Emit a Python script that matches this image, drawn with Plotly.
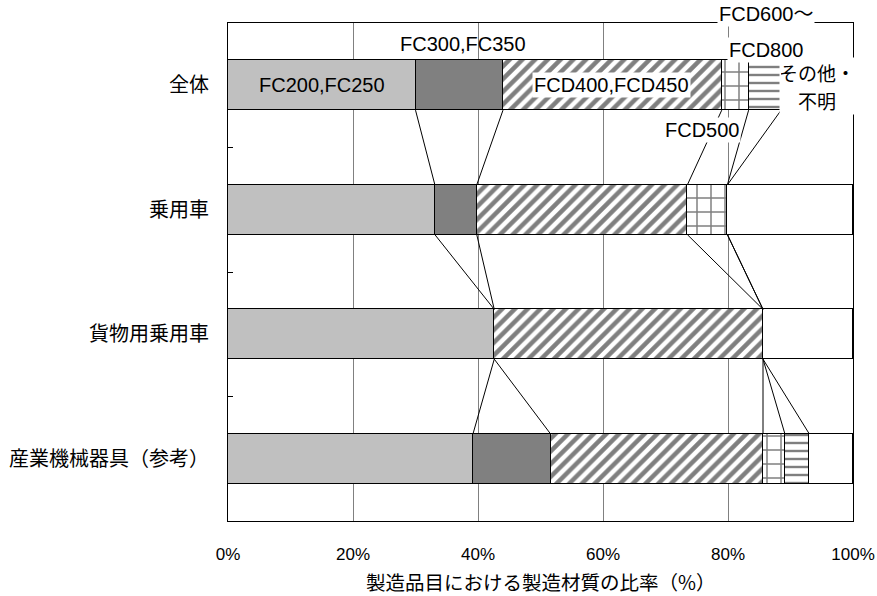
import plotly.graph_objects as go

# 製造品目ごとの材質構成比（%）
categories = ["全体", "乗用車", "貨物用乗用車", "産業機械器具（参考）"]
fc200_fc250 = [30.0, 33.1, 42.6, 39.2]
fc300_fc350 = [14.0, 6.7, 0.0, 12.4]
fcd400_fcd450 = [35.0, 33.7, 43.0, 34.0]
fcd500 = [4.3, 6.4, 0.0, 3.5]
fcd600_fcd800 = [5.2, 0.0, 0.0, 3.9]
other_unknown = [11.5, 20.1, 14.4, 7.0]
x_ticks = [0, 20, 40, 60, 80, 100]
x_tick_labels = ["0%", "20%", "40%", "60%", "80%", "100%"]
x_title = "製造品目における製造材質の比率（%）"

LATIN = "Liberation Sans, Arial, Noto Sans CJK JP"
CJK = "Noto Sans CJK JP"
BAR_W = 0.4

series = [
    ("FC200,FC250", fc200_fc250, dict(color="#C0C0C0")),
    ("FC300,FC350", fc300_fc350, dict(color="#808080")),
    ("FCD400,FCD450", fcd400_fcd450,
     dict(color="white", pattern=dict(shape="/", size=9, solidity=0.5,
                                      fgcolor="black", bgcolor="white"))),
    ("FCD500", fcd500,
     dict(color="white", pattern=dict(shape="+", size=14, solidity=0.2,
                                      fgcolor="black", bgcolor="white"))),
    ("FCD600～FCD800", fcd600_fcd800,
     dict(color="white", pattern=dict(shape="-", size=8, solidity=0.3,
                                      fgcolor="black", bgcolor="white"))),
    ("その他・不明", other_unknown, dict(color="white")),
]

ypos = list(range(len(categories)))
Y_RANGE = [3.5, -0.5]
fig = go.Figure()

# 系列線：隣り合う棒の累積境界を結ぶ
cum = []
running = [0.0] * len(categories)
for _, vals, _ in series[:-1]:
    running = [r + v for r, v in zip(running, vals)]
    cum.append(running)
lx, ly = [], []
for bound in cum:
    for i in range(len(categories) - 1):
        lx += [bound[i], bound[i + 1], None]
        ly += [ypos[i] + BAR_W / 2, ypos[i + 1] - BAR_W / 2, None]
fig.add_trace(go.Scatter(x=lx, y=ly, mode="lines",
                         line=dict(color="black", width=1),
                         hoverinfo="skip", showlegend=False))

for name, vals, mk in series:
    mk = dict(mk)
    mk["line"] = dict(color="black", width=1.5)
    fig.add_trace(go.Bar(x=vals, y=ypos, orientation="h", name=name,
                         width=BAR_W, marker=mk, showlegend=False))


def label(text, x, y, bg=None, font=LATIN, size=20, width=None, height=None):
    # y はカテゴリ軸の値、紙座標へ換算して枠外でも描画されるようにする
    py = (Y_RANGE[0] - y) / (Y_RANGE[0] - Y_RANGE[1])
    fig.add_annotation(x=x / 100, y=py, xref="paper", yref="paper", text=text,
                       xanchor="center", yanchor="middle", align="center",
                       width=width, height=height,
                       showarrow=False, font=dict(family=font, size=size, color="black"),
                       bgcolor=bg, borderpad=1)


label("FC200,FC250", fc200_fc250[0] / 2, 0)
label("FC300,FC350", 37.6, -0.33)
label("FCD400,FCD450", 61.4, 0, bg="white")
label("FCD500", 75.8, 0.36, bg="white")
label("FCD600～", 86.1, -0.57, bg="white")
label("FCD800", 86.1, -0.285, bg="white")
label("その他・", 94.3, -0.105, bg="white", font=CJK, size=19, width=72, height=26)
label("不明", 94.3, 0.115, bg="white", font=CJK, size=19, width=72, height=26)

# 横軸タイトル
fig.add_annotation(x=0.5, y=-0.1205, xref="paper", yref="paper", text=x_title,
                   xanchor="center", yanchor="middle", showarrow=False,
                   font=dict(family=CJK, size=19.5, color="black"))

fig.update_layout(
    width=877, height=596,
    margin=dict(l=228, r=24, t=23, b=75),
    paper_bgcolor="white", plot_bgcolor="white",
    barmode="stack", bargap=0,
    font=dict(family=LATIN, color="black"),
    xaxis=dict(range=[0, 100], tickvals=x_ticks, ticktext=x_tick_labels,
               automargin=False,
               showgrid=True, gridcolor="#808080", gridwidth=1,
               showline=True, mirror=True, linecolor="black", linewidth=1,
               ticks="", zeroline=False, ticklabelstandoff=18,
               tickfont=dict(family=LATIN, size=17)),
    yaxis=dict(range=Y_RANGE, tickvals=ypos, ticktext=categories,
               automargin=False,
               showgrid=False, zeroline=False,
               showline=True, mirror=True, linecolor="black", linewidth=1,
               ticks="", ticklabelstandoff=14,
               tickfont=dict(family=CJK, size=20),
               minor=dict(tickvals=[0.5, 1.5, 2.5], ticks="inside",
                          ticklen=5, tickcolor="black", tickwidth=1)),
)

fig.write_html("out.html")
